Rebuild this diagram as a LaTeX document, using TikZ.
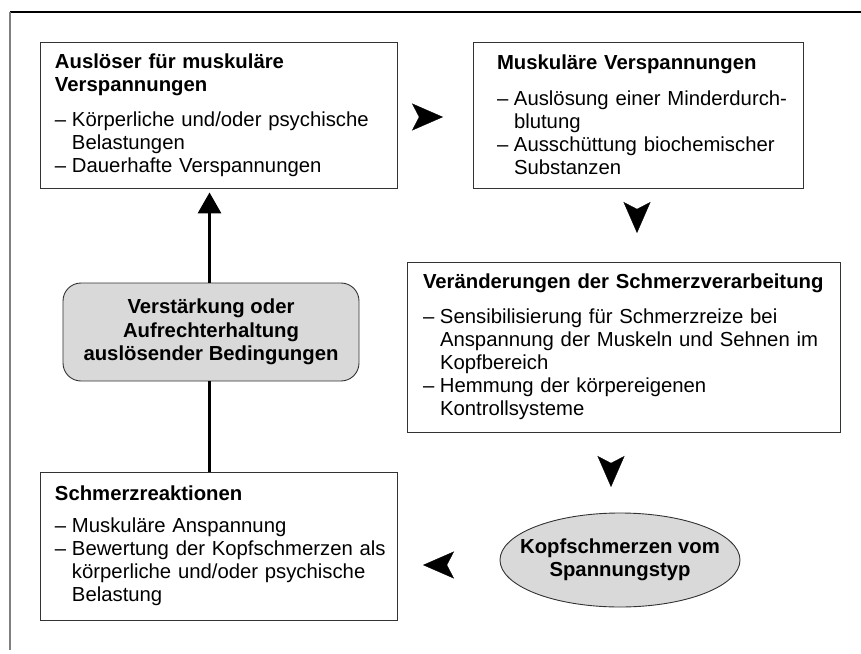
\documentclass[tikz,border=0pt]{standalone}
\usepackage{fontspec}
\setmainfont{Liberation Sans}
\usetikzlibrary{arrows.meta,shapes.geometric,calc}

% list lines: a dashed item line and an indented continuation line
\newcommand\itm[1]{\par\noindent\makebox[17bp][l]{–}\mbox{#1}}
\newcommand\cnt[1]{\par\noindent\hspace*{17bp}\mbox{#1}}

\tikzset{
  txtbox/.style={draw=black!80, line width=0.9bp, rectangle, inner ysep=0pt,
    align=left, font=\fontsize{20.3bp}{23bp}\selectfont},
  greyshape/.style={draw=black!80, line width=0.9bp, fill=gray!30,
    inner sep=0pt, font=\bfseries\fontsize{20.3bp}{23.5bp}\selectfont},
  headonly/.style={line width=0.3bp,
    -{Stealth[length=31bp,width=27bp,inset=7bp]}},
  loopline/.style={line width=3.3bp}
}

\begin{document}
\begin{tikzpicture}[x=1bp,y=-1bp]
\useasboundingbox (0,0) rectangle (861,654);

% frame lines
\draw[line width=1.2bp] (10,12) -- (861,12);
\draw[gray, line width=1.3bp] (10,12) -- (10,650);

% boxes
\node[txtbox, inner xsep=15bp, text width=327bp, minimum height=146bp] (trig) at (218.5,115) {%
  {\bfseries Auslöser für muskuläre\par Verspannungen\par}\vspace{12bp}
  \itm{Körperliche und/oder psychische}
  \cnt{Belastungen}
  \itm{Dauerhafte Verspannungen}};

\node[txtbox, inner xsep=24bp, text width=282bp, minimum height=146bp] (tens) at (638,115) {%
  {\bfseries Muskuläre Verspannungen\par}\vspace{13bp}
  \itm{Auslösung einer Minderdurch-}
  \cnt{blutung}
  \itm{Ausschüttung biochemischer}
  \cnt{Substanzen}};

\node[txtbox, inner xsep=16bp, text width=401bp, minimum height=170bp] (proc) at (623.5,347) {%
  {\bfseries\mbox{Veränderungen der Schmerzverarbeitung}\par}\vspace{12bp}
  \itm{Sensibilisierung für Schmerzreize bei}
  \cnt{Anspannung der Muskeln und Sehnen im}
  \cnt{Kopfbereich}
  \itm{Hemmung der körpereigenen}
  \cnt{Kontrollsysteme}};

\node[txtbox, inner xsep=15bp, text width=327bp, minimum height=148bp] (react) at (218.5,546) {%
  {\bfseries Schmerzreaktionen\par}\vspace{9bp}
  \itm{Muskuläre Anspannung}
  \itm{Bewertung der Kopfschmerzen als}
  \cnt{körperliche und/oder psychische}
  \cnt{Belastung}};

\node[greyshape, align=center, rounded corners=18bp, minimum width=296bp, minimum height=98bp] (keep) at (211,332)
  {Verstärkung oder\\Aufrechterhaltung\\auslösender Bedingungen};

\node[greyshape, ellipse, minimum width=240bp, minimum height=94bp] (head) at (620,560)
  {\makebox[150bp]{\parbox[c]{220bp}{\centering Kopfschmerzen vom\\Spannungstyp}}};

% arrow heads between the stages
\coordinate (t1) at (443,117);
\coordinate (t2) at (637,233);
\coordinate (t3) at (611,487);
\coordinate (t4) at (423,565);
\draw[headonly] ($(t1)+(-20,0)$) -- (t1);
\draw[headonly] ($(t2)+(0,-20)$) -- (t2);
\draw[headonly] ($(t3)+(0,-20)$) -- (t3);
\draw[headonly] ($(t4)+(20,0)$) -- (t4);

% feedback loop
\coordinate (vx) at (209.5,0);
\draw[loopline] (react.north -| vx) -- (keep.south -| vx);
\draw[loopline, -{Triangle[length=21bp,width=23bp]}]
  (keep.north -| vx) -- ($(trig.south -| vx)+(0,4)$);
\end{tikzpicture}
\end{document}
